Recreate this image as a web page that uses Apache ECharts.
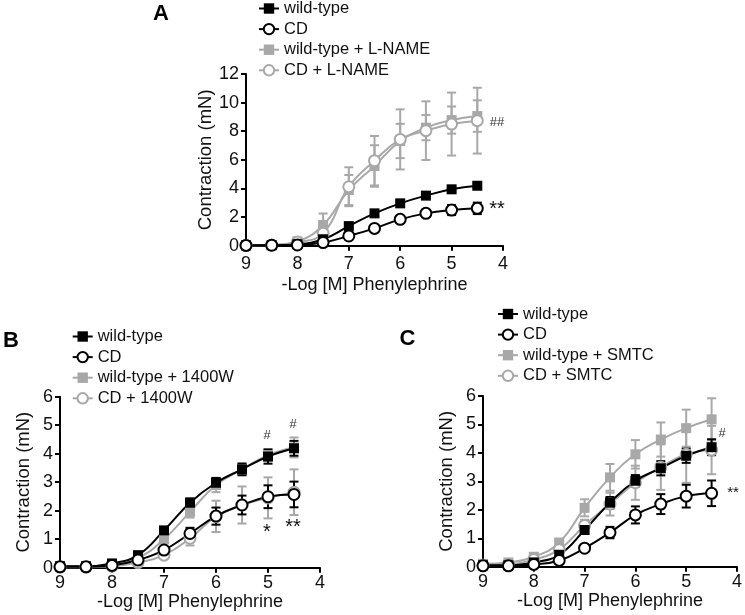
<!DOCTYPE html>
<html>
<head>
<meta charset="utf-8">
<script src="https://cdn.jsdelivr.net/npm/echarts@6/dist/echarts.min.js"></script>
<style>html,body{margin:0;padding:0;background:#fff}#c{width:745px;height:615px}</style>
</head>
<body>
<div id="c"></div>
<script>
// -Log [M] phenylephrine doses
const doses = [9, 8.5, 8, 7.5, 7, 6.5, 6, 5.5, 5, 4.5];
const xTicks = [9, 8, 7, 6, 5, 4];

// Panel A
const A_names = ['wild-type', 'CD', 'wild-type + L-NAME', 'CD + L-NAME'];
const A_wt      = [0.02, 0.03, 0.10, 0.45, 1.37, 2.26, 2.96, 3.50, 3.94, 4.19];
const A_wt_err  = [0, 0, 0.03, 0.08, 0.10, 0.12, 0.12, 0.12, 0.14, 0.15];
const A_cd      = [0.02, 0.03, 0.05, 0.22, 0.68, 1.21, 1.84, 2.26, 2.49, 2.61];
const A_cd_err  = [0, 0, 0.02, 0.05, 0.10, 0.12, 0.20, 0.25, 0.35, 0.40];
const A_wtl     = [0.02, 0.05, 0.30, 1.45, 3.89, 5.57, 7.32, 8.25, 8.78, 9.06];
const A_wtl_err = [0, 0.03, 0.10, 0.80, 1.05, 1.45, 1.20, 0.88, 0.95, 1.10];
const A_cdl     = [0.02, 0.05, 0.25, 0.87, 4.12, 5.94, 7.43, 8.04, 8.50, 8.74];
const A_cdl_err = [0, 0.03, 0.10, 0.50, 1.36, 1.73, 2.10, 2.05, 2.20, 2.30];

// Panel B
const B_names = ['wild-type', 'CD', 'wild-type + 1400W', 'CD + 1400W'];
const B_wt      = [0.05, 0.05, 0.15, 0.44, 1.31, 2.28, 2.98, 3.45, 3.90, 4.19];
const B_wt_err  = [0.02, 0.02, 0.04, 0.06, 0.10, 0.15, 0.17, 0.20, 0.25, 0.26];
const B_cd      = [0.03, 0.03, 0.08, 0.27, 0.62, 1.20, 1.81, 2.20, 2.49, 2.57];
const B_cd_err  = [0.01, 0.01, 0.03, 0.05, 0.10, 0.20, 0.30, 0.33, 0.40, 0.45];
const B_wtw     = [0.05, 0.05, 0.10, 0.34, 1.00, 1.96, 2.90, 3.45, 3.95, 4.22];
const B_wtw_err = [0.02, 0.02, 0.04, 0.08, 0.15, 0.20, 0.25, 0.22, 0.20, 0.35];
const B_cdw     = [0.02, 0.02, 0.05, 0.18, 0.44, 1.03, 1.80, 2.20, 2.45, 2.65];
const B_cdw_err = [0.01, 0.01, 0.02, 0.05, 0.10, 0.25, 0.55, 0.65, 0.72, 0.80];

// Panel C
const C_names = ['wild-type', 'CD', 'wild-type + SMTC', 'CD + SMTC'];
const C_wt      = [0.05, 0.05, 0.15, 0.42, 1.29, 2.25, 3.02, 3.46, 3.90, 4.20];
const C_wt_err  = [0.02, 0.02, 0.04, 0.06, 0.12, 0.20, 0.20, 0.25, 0.25, 0.28];
const C_cd      = [0.03, 0.03, 0.08, 0.22, 0.65, 1.20, 1.82, 2.20, 2.48, 2.58];
const C_cd_err  = [0.01, 0.01, 0.02, 0.04, 0.06, 0.20, 0.30, 0.35, 0.40, 0.45];
const C_wts     = [0.10, 0.15, 0.35, 0.85, 2.07, 3.14, 3.95, 4.47, 4.87, 5.18];
const C_wts_err = [0.03, 0.05, 0.08, 0.12, 0.30, 0.47, 0.50, 0.60, 0.65, 0.74];
const C_cds     = [0.05, 0.08, 0.25, 0.60, 1.45, 2.20, 2.95, 3.50, 3.95, 4.10];
const C_cds_err = [0.02, 0.03, 0.05, 0.10, 0.20, 0.40, 0.60, 0.80, 1.00, 0.85];

const BLACK = '#000000';
const GRAY = '#a8a8a8';
const FONT = '"Liberation Sans", Arial, sans-serif';

const chart = echarts.init(document.getElementById('c'), null, {renderer: 'canvas'});

function errSeries(idx, vals, errs, color) {
  return {
    type: 'custom', xAxisIndex: idx, yAxisIndex: idx, silent: true, z: 2,
    data: doses.map((d, i) => [d, vals[i] - errs[i], vals[i] + errs[i]]),
    renderItem: function (params, api) {
      const lo = api.coord([api.value(0), api.value(1)]);
      const hi = api.coord([api.value(0), api.value(2)]);
      const w = 4.5;
      const st = {stroke: color, lineWidth: 2};
      return {type: 'group', children: [
        {type: 'line', shape: {x1: lo[0], y1: lo[1], x2: hi[0], y2: hi[1]}, style: st},
        {type: 'line', shape: {x1: lo[0] - w, y1: lo[1], x2: lo[0] + w, y2: lo[1]}, style: st},
        {type: 'line', shape: {x1: hi[0] - w, y1: hi[1], x2: hi[0] + w, y2: hi[1]}, style: st}
      ]};
    }
  };
}
function lineSeries(idx, name, vals, color, open) {
  return {
    type: 'line', name: name, xAxisIndex: idx, yAxisIndex: idx, z: 3,
    data: doses.map((d, i) => [d, vals[i]]),
    smooth: 0.45,
    symbol: open ? 'emptyCircle' : 'rect',
    symbolSize: open ? 11 : 10,
    showAllSymbol: true,
    lineStyle: {color: color, width: 2},
    itemStyle: {color: color, borderColor: color, borderWidth: open ? 2 : 0}
  };
}
function group(idx, names, data) {
  return [
    errSeries(idx, data[4], data[5], GRAY),
    errSeries(idx, data[6], data[7], GRAY),
    lineSeries(idx, names[2], data[4], GRAY, false),
    lineSeries(idx, names[3], data[6], GRAY, true),
    errSeries(idx, data[0], data[1], BLACK),
    errSeries(idx, data[2], data[3], BLACK),
    lineSeries(idx, names[0], data[0], BLACK, false),
    lineSeries(idx, names[1], data[2], BLACK, true)
  ];
}

const grids = [
  {left: 246, top: 74, width: 257, height: 171.7},
  {left: 60, top: 396.7, width: 260, height: 171},
  {left: 483, top: 396, width: 257.7, height: 170.7}
];
const yMax = [12, 6, 6];
const yInt = [2, 1, 1];
const xNameGap = [30, 21, 21];
const xLabelMargin = [9, 6, 6];

function xAxis(i) {
  return {
    type: 'value', gridIndex: i, min: 4, max: 9, interval: 1, inverse: true,
    name: '-Log [M] Phenylephrine', nameLocation: 'middle', nameGap: xNameGap[i],
    nameTextStyle: {fontFamily: FONT, fontSize: 18, color: '#111'},
    axisLine: {show: true, onZero: false, lineStyle: {color: BLACK, width: 2}},
    axisTick: {show: true, length: 5, lineStyle: {color: BLACK, width: 2}},
    axisLabel: {fontFamily: FONT, fontSize: 18, color: '#111', margin: xLabelMargin[i]},
    splitLine: {show: false}
  };
}
function yAxis(i) {
  return {
    type: 'value', gridIndex: i, min: 0, max: yMax[i], interval: yInt[i],
    name: 'Contraction (mN)', nameLocation: 'middle', nameGap: 27,
    nameTextStyle: {fontFamily: FONT, fontSize: 18.5, color: '#111'},
    axisLine: {show: true, onZero: false, lineStyle: {color: BLACK, width: 2}},
    axisTick: {show: true, length: 5, lineStyle: {color: BLACK, width: 2}},
    axisLabel: {fontFamily: FONT, fontSize: 18, color: '#111', margin: 7},
    splitLine: {show: false}
  };
}
function legend(names, left, top) {
  return {
    data: names, left: left, top: top, orient: 'vertical', padding: 0,
    itemWidth: 20, itemHeight: 13, itemGap: 3.6, selectedMode: false,
    textStyle: {fontFamily: FONT, fontSize: 16.5, color: '#111', lineHeight: 17}
  };
}
function txt(x, y, s, size, color, bold) {
  return {type: 'text', x: x, y: y, style: {text: s, fontFamily: FONT, fontSize: size,
    fontWeight: bold ? 'bold' : 'normal', fill: color, align: 'center', verticalAlign: 'middle'}};
}

const option = {
  animation: false,
  backgroundColor: '#fff',
  grid: grids,
  xAxis: [0, 1, 2].map(xAxis),
  yAxis: [0, 1, 2].map(yAxis),
  legend: [
    legend(A_names, 258, 0),
    legend(B_names, 71.7, 328),
    legend(C_names, 497, 305.5)
  ],
  series: [].concat(
    group(0, A_names, [A_wt, A_wt_err, A_cd, A_cd_err, A_wtl, A_wtl_err, A_cdl, A_cdl_err]),
    group(1, B_names, [B_wt, B_wt_err, B_cd, B_cd_err, B_wtw, B_wtw_err, B_cdw, B_cdw_err]),
    group(2, C_names, [C_wt, C_wt_err, C_cd, C_cd_err, C_wts, C_wts_err, C_cds, C_cds_err])
  ),
  graphic: [
    txt(161, 14, 'A', 22, BLACK, true),
    txt(11, 341, 'B', 22, BLACK, true),
    txt(407.5, 339, 'C', 22, BLACK, true),
    txt(497, 122, '##', 13, '#333', false),
    txt(497, 209, '**', 20, '#111', false),
    txt(267, 435, '#', 13, '#333', false),
    txt(293, 424, '#', 13, '#333', false),
    txt(267, 532, '*', 20, '#111', false),
    txt(293, 527, '**', 20, '#111', false),
    txt(722, 433, '#', 13, '#333', false),
    txt(733, 493, '**', 15, '#111', false)
  ]
};
chart.setOption(option);
</script>
</body>
</html>
